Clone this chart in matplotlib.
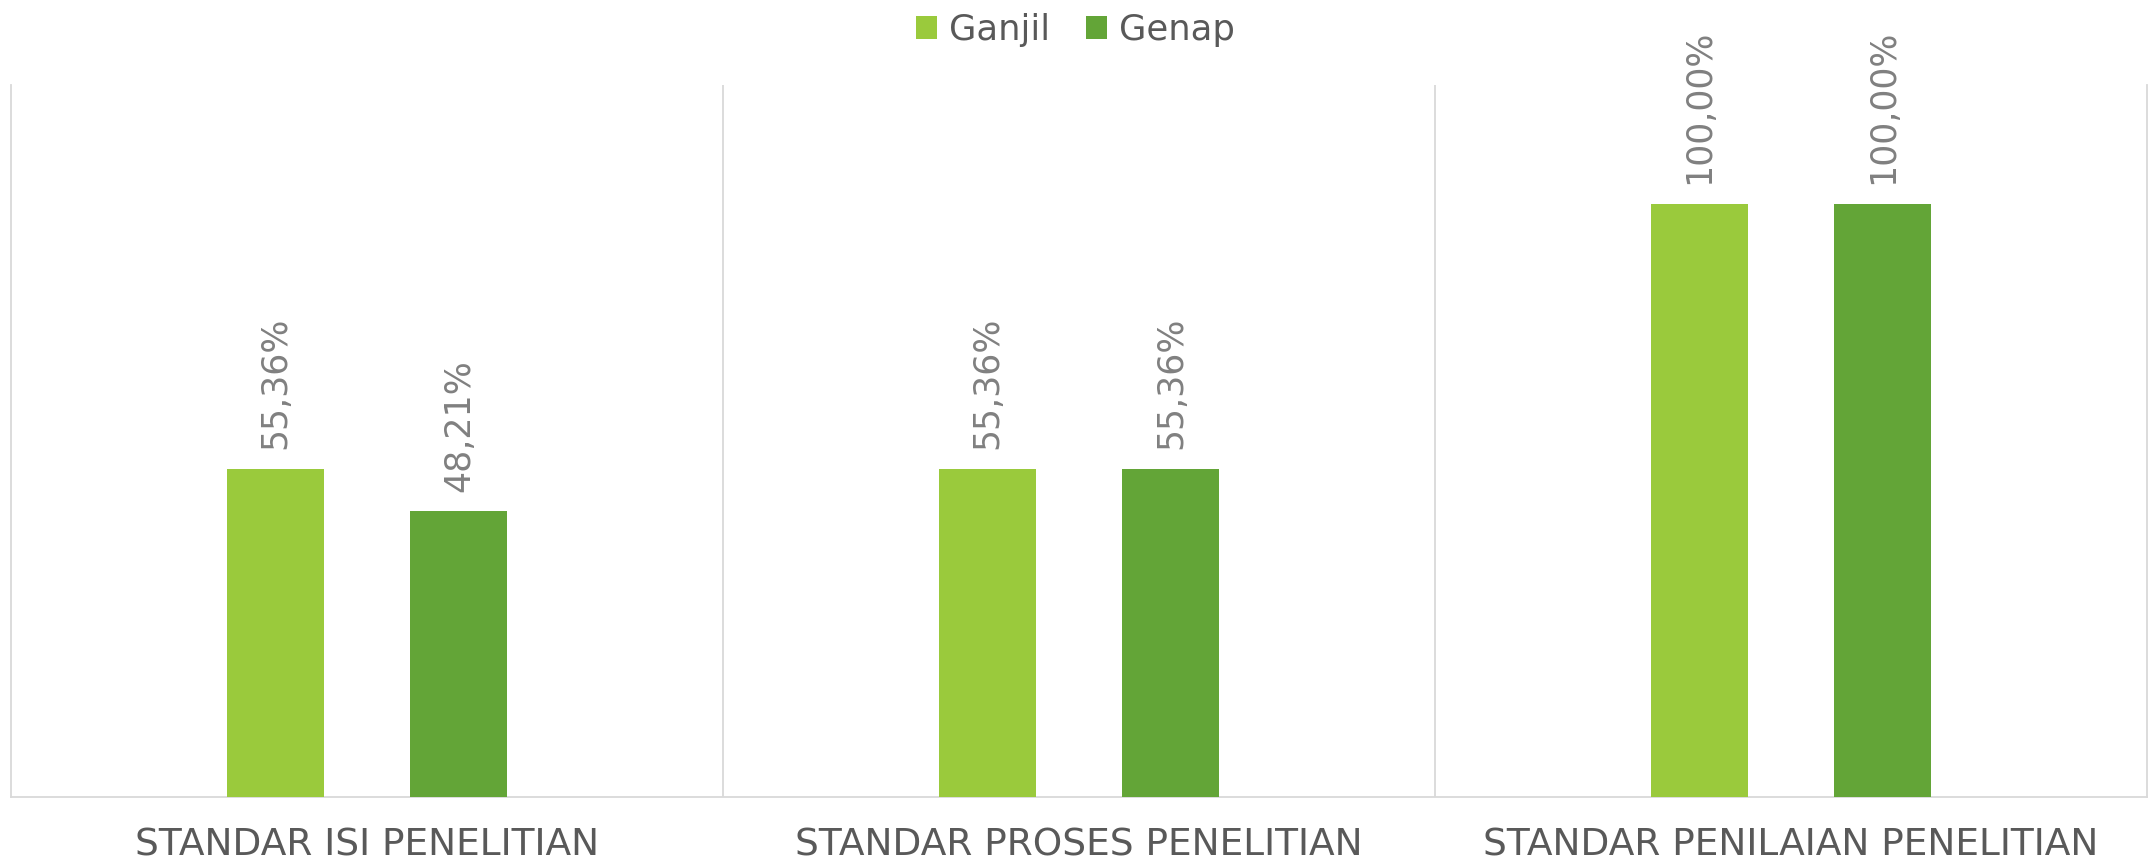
import matplotlib
matplotlib.use("Agg")
import matplotlib.pyplot as plt
import numpy as np

categories = ["STANDAR ISI PENELITIAN", "STANDAR PROSES PENELITIAN", "STANDAR PENILAIAN PENELITIAN"]
series_names = ["Ganjil", "Genap"]
ganjil = [55.36, 55.36, 100.00]
genap = [48.21, 55.36, 100.00]
colors = ["#9ACA3C", "#63A537"]

plt.rcParams['font.family'] = ['DejaVu Sans']

fig = plt.figure(figsize=(21.51, 8.63), dpi=100)
ax = fig.add_axes([11/2151, 1-797/863, (2147-11)/2151, (797-85)/863])

x = np.arange(len(categories))
bw = 0.136
off = 0.129
for vals, name, col, sgn in [(ganjil, series_names[0], colors[0], -1), (genap, series_names[1], colors[1], 1)]:
    bars = ax.bar(x + sgn*off, vals, width=bw, color=col, label=name, zorder=3)
    for b, v in zip(bars, vals):
        lab = f"{v:.2f}".replace(".", ",") + "%"
        ax.annotate(lab, (b.get_x() + b.get_width()/2, b.get_height()),
                    xytext=(0, 14), textcoords="offset points",
                    rotation=90, ha="center", va="bottom",
                    fontsize=25, color="#808080")

ax.set_xlim(-0.5, len(categories) - 0.5)
ax.set_ylim(0, 120)
for sep in np.arange(0.5, len(categories) - 0.5, 1.0):
    ax.axvline(sep, color="#D9D9D9", lw=1.3, zorder=1)

for s in ["left", "right", "bottom"]:
    ax.spines[s].set_color("#D9D9D9")
    ax.spines[s].set_linewidth(1.3)
ax.spines["top"].set_visible(False)
ax.set_yticks([])
ax.set_xticks(x)
ax.set_xticklabels(categories, fontsize=27, color="#595959")
ax.tick_params(axis="x", length=0, pad=22)

leg = fig.legend(loc="upper center", bbox_to_anchor=(0.5, 1.022), ncol=2, frameon=False,
                 fontsize=25.5, handlelength=0.6, handleheight=0.6, handletextpad=0.35,
                 columnspacing=1.0)
for t in leg.get_texts():
    t.set_color("#595959")

fig.savefig("out.png", dpi=100)
